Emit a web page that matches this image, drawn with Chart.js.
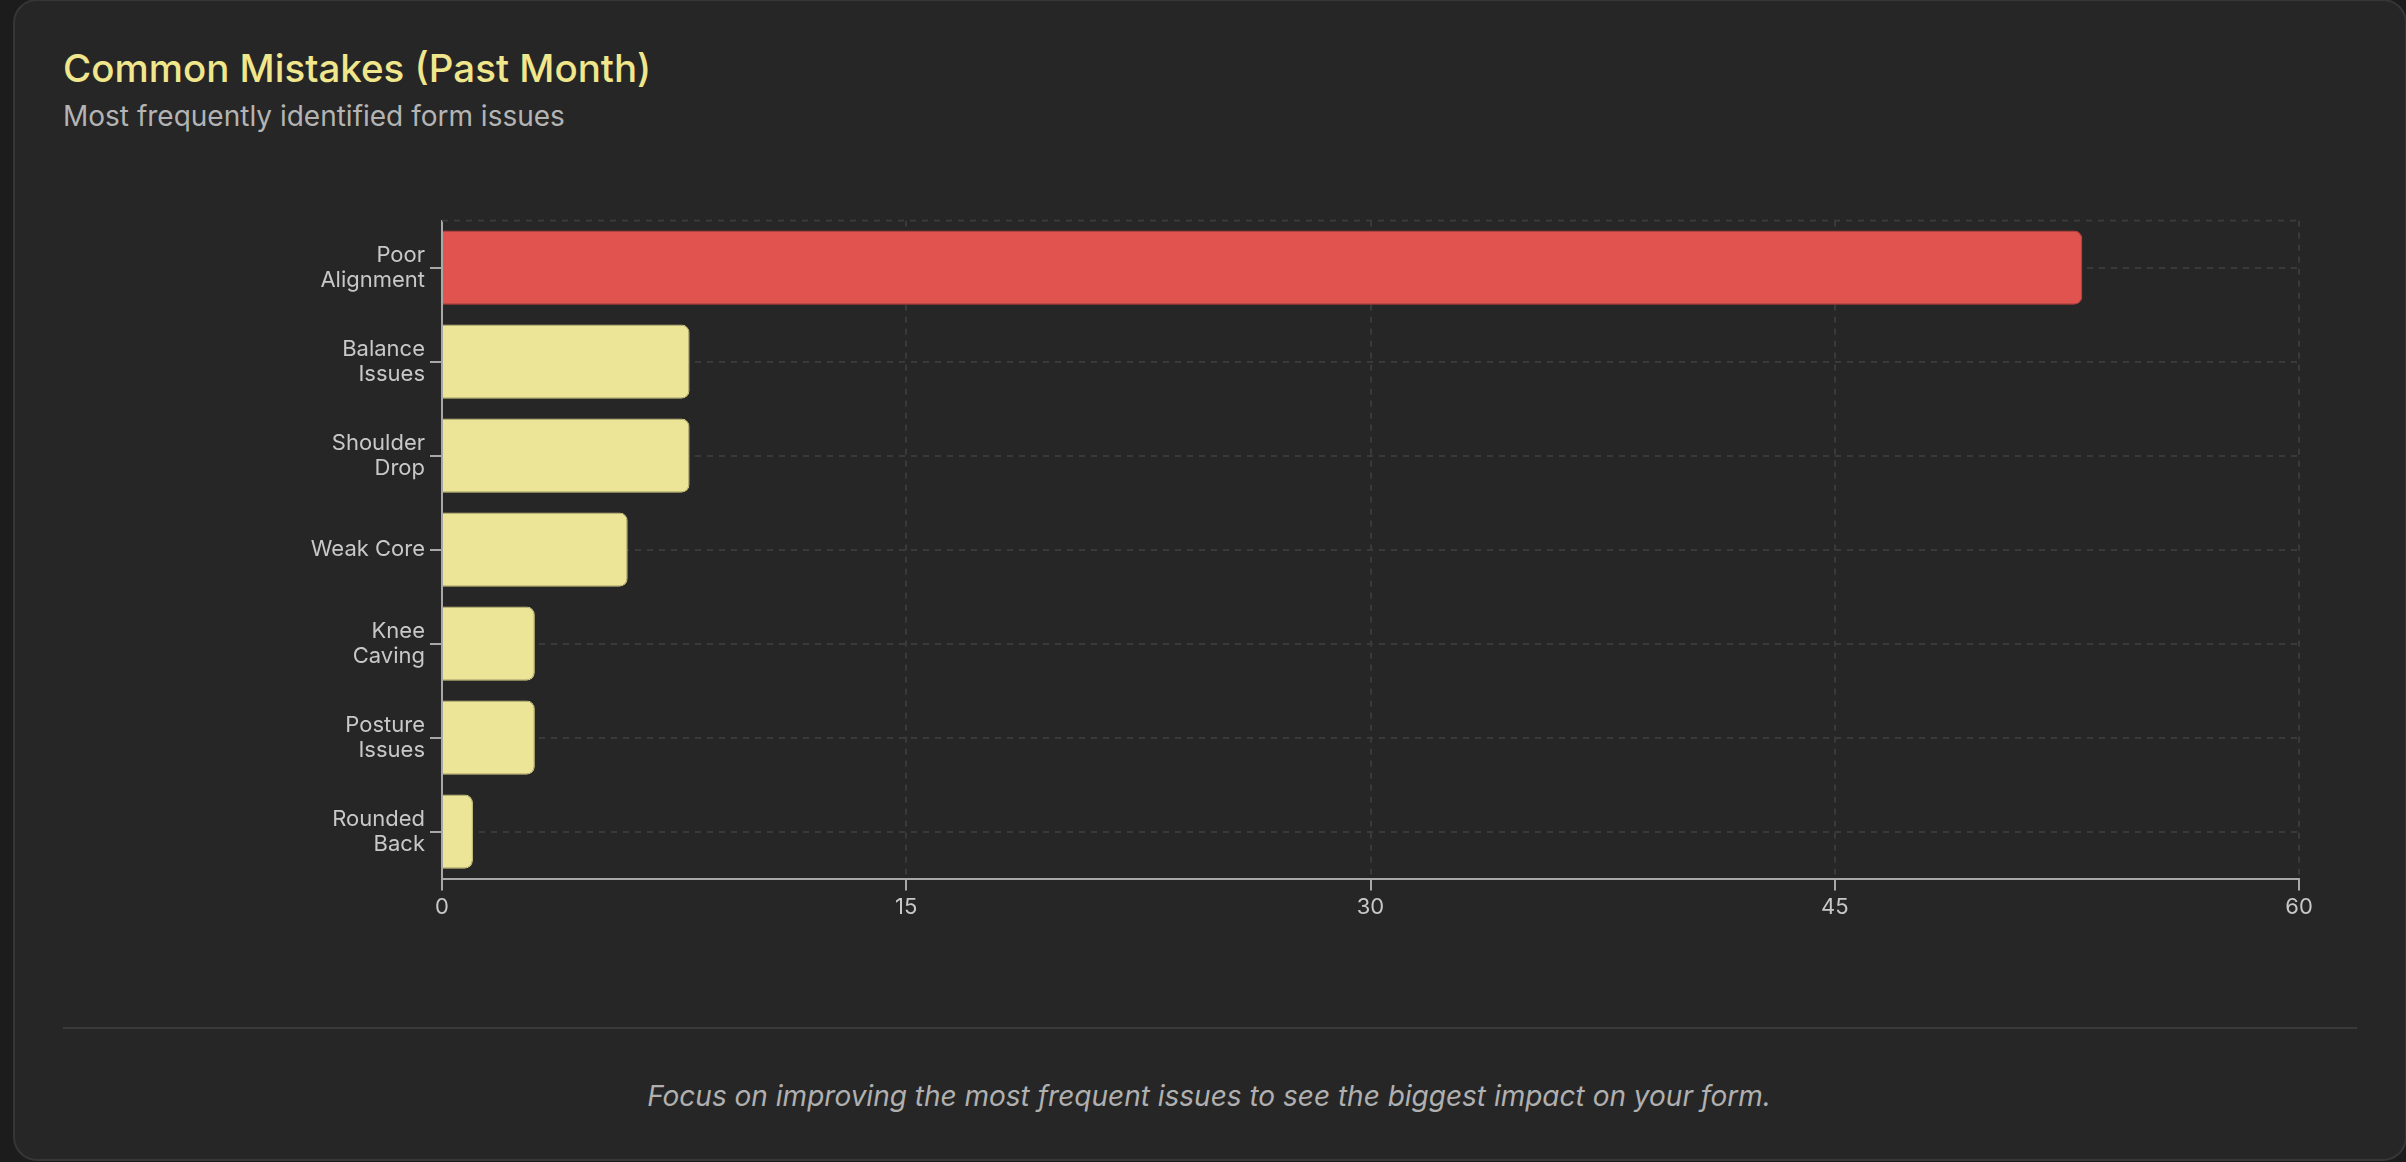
<!DOCTYPE html>
<html lang="en">
<head>
  <meta charset="UTF-8">
  <title>Common Mistakes (Past Month)</title>
  <script src="https://cdn.jsdelivr.net/npm/chart.js"></script>
  <style>
    html, body {
      margin: 0;
      padding: 0;
      background: #1c1c1c;
      width: 2406px;
      height: 1162px;
      overflow: hidden;
      font-family: Inter, "Noto Sans", sans-serif;
    }
    .card {
      position: absolute;
      left: 13px;
      top: -1px;
      width: 2394px;
      height: 1162px;
      box-sizing: border-box;
      background: #262626;
      border: 2px solid #363636;
      border-radius: 24px;
    }
    .title {
      position: absolute;
      left: 63px;
      top: 49px;
      margin: 0;
      font-size: 38.5px;
      line-height: 1;
      font-weight: 500;
      color: #f0e68c;
    }
    .subtitle {
      position: absolute;
      left: 63px;
      top: 102px;
      margin: 0;
      font-size: 28px;
      line-height: 1;
      color: #b4b4b4;
    }
    #chartBox {
      position: absolute;
      left: 63px;
      top: 191px;
      width: 2294px;
      height: 734px;
    }
    .divider {
      position: absolute;
      left: 63px;
      top: 1027px;
      width: 2294px;
      height: 2px;
      background: #3a3a3a;
    }
    .note {
      position: absolute;
      left: 13px;
      width: 2392px;
      top: 1082px;
      margin: 0;
      text-align: center;
      font-size: 28px;
      line-height: 1;
      font-style: italic;
      color: #b0b0b0;
    }
  </style>
</head>
<body>
  <div class="card"></div>
  <h1 class="title">Common Mistakes (Past Month)</h1>
  <p class="subtitle">Most frequently identified form issues</p>
  <div id="chartBox"><canvas id="mistakesChart"></canvas></div>
  <div class="divider"></div>
  <p class="note">Focus on improving the most frequent issues to see the biggest impact on your form.</p>

  <script>
    // data
    const categories = [
      ["Poor", "Alignment"],
      ["Balance", "Issues"],
      ["Shoulder", "Drop"],
      "Weak Core",
      ["Knee", "Caving"],
      ["Posture", "Issues"],
      ["Rounded", "Back"]
    ];
    const counts = [53, 8, 8, 6, 3, 3, 1];
    const xTicks = [0, 15, 30, 45, 60];

    const GRID = "#3a3a3a";
    const AXIS = "#a8a8a8";
    const LABEL = "#c8c8c8";

    // top dashed edge of the plot area
    const topEdge = {
      id: "topEdge",
      beforeDatasetsDraw(chart) {
        const { ctx, chartArea } = chart;
        ctx.save();
        ctx.strokeStyle = GRID;
        ctx.lineWidth = 2;
        ctx.setLineDash([6, 6]);
        ctx.beginPath();
        ctx.moveTo(chartArea.left, chartArea.top);
        ctx.lineTo(chartArea.right, chartArea.top);
        ctx.stroke();
        ctx.restore();
      }
    };

    new Chart(document.getElementById("mistakesChart").getContext("2d"), {
      type: "bar",
      data: {
        labels: categories,
        datasets: [{
          data: counts,
          backgroundColor: counts.map((v, i) => i === 0 ? "#e0534f" : "#ece597"),
          borderColor: counts.map((v, i) => i === 0 ? "#c9433f" : "#d2cb80"),
          borderWidth: 1,
          borderRadius: 8,
          borderSkipped: "start",
          barPercentage: 0.95,
          categoryPercentage: 0.83
        }]
      },
      options: {
        indexAxis: "y",
        responsive: true,
        maintainAspectRatio: false,
        animation: false,
        layout: { padding: { top: 0, right: 58, bottom: 0, left: 0 } },
        scales: {
          x: {
            min: 0,
            max: 60,
            afterBuildTicks: scale => { scale.ticks = xTicks.map(v => ({ value: v })); },
            ticks: { color: LABEL, font: { family: "Inter", size: 22 }, padding: 4 },
            grid: { color: GRID, lineWidth: 2, tickColor: AXIS, tickLength: 12, tickWidth: 2 },
            border: { color: AXIS, width: 2, dash: [6, 6] }
          },
          y: {
            afterFit: scale => { scale.width = 379; },
            ticks: { color: LABEL, font: { family: "Inter", size: 22, lineHeight: 1.12 }, padding: 5 },
            grid: { color: GRID, lineWidth: 2, offset: false, tickColor: AXIS, tickLength: 12, tickWidth: 2 },
            border: { color: AXIS, width: 2, dash: [6, 6] }
          }
        },
        plugins: {
          legend: { display: false },
          tooltip: { enabled: false }
        }
      },
      plugins: [topEdge]
    });
  </script>
</body>
</html>
